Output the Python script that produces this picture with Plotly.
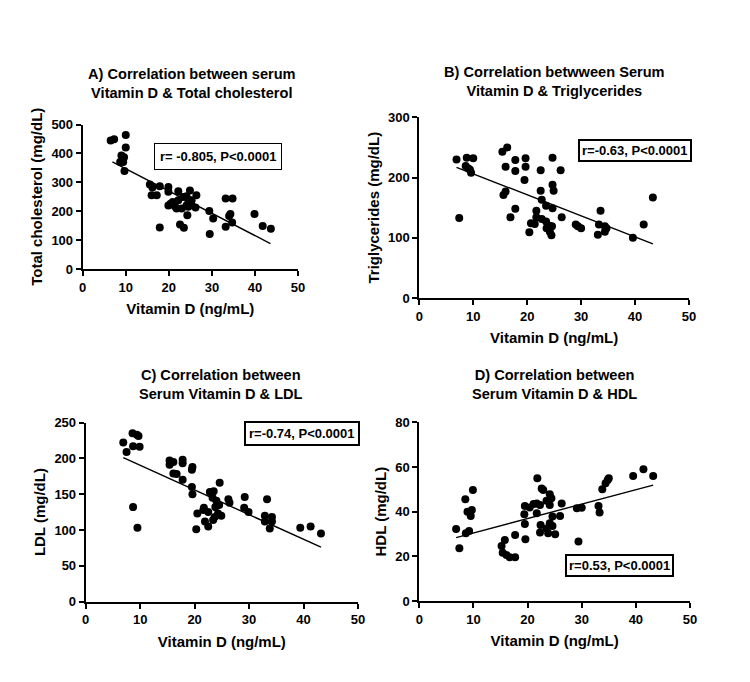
import plotly.graph_objects as go

FONT = "Liberation Sans, Arial, sans-serif"

# ---------------- Data ----------------
# A) Total cholesterol
a_vitd = [6.5, 7.3, 10.0, 10.0, 9.0, 9.6, 8.7, 9.4, 9.7, 15.6, 16.2, 16.0, 17.2, 17.9, 19.9, 19.9,
          22.2, 23.3, 24.9, 24.1, 25.3, 26.4, 20.4, 19.9, 21.8, 23.0, 24.1, 24.5, 24.3, 26.2,
          17.9, 22.6, 23.5, 29.4, 30.3, 29.5, 33.2, 34.8, 34.3, 34.0, 34.7, 33.2, 39.9, 41.8, 43.7,
          20.9, 22.2, 24.5, 25.3, 21.4]
a_chol = [445, 449, 464, 420, 393, 387, 370, 370, 339, 292, 282, 255, 255, 286, 284, 267,
          269, 249, 272, 252, 238, 255, 226, 220, 209, 209, 220, 215, 186, 213,
          144, 154, 143, 201, 175, 121, 244, 244, 190, 183, 161, 146, 190, 149, 139,
          232, 238, 240, 221, 217]
a_fit_x = [6.9, 43.6]
a_fit_y = [371, 88]

# B) Triglycerides
b_vitd = [6.9, 7.4, 8.8, 8.6, 9.4, 9.6, 10.0, 9.1, 15.4, 16.3, 16.0, 15.6, 16.0, 17.8, 17.8, 16.9,
          17.8, 19.7, 19.7, 19.5, 22.5, 22.5, 22.7, 23.5, 21.7, 20.7, 20.4, 21.4, 21.7, 22.7,
          23.5, 23.6, 24.1, 24.2, 24.5, 24.6, 24.7, 24.7, 24.9, 24.7, 26.2, 26.4, 29.0, 29.4,
          30.0, 33.3, 33.1, 33.6, 34.4, 34.7, 34.4, 39.6, 41.6, 43.3]
b_trig = [230, 133, 233, 219, 213, 208, 232, 215, 243, 250, 218, 171, 177, 229, 211, 134,
          148, 232, 218, 196, 212, 178, 163, 153, 145, 124, 109, 123, 134, 131,
          127, 116, 120, 110, 104, 119, 149, 188, 178, 233, 212, 134, 122, 119,
          116, 122, 105, 145, 119, 116, 110, 100, 122, 167]
b_fit_x = [6.9, 43.3]
b_fit_y = [217, 90]

# C) LDL
c_vitd = [6.9, 7.5, 8.6, 9.4, 9.7, 8.7, 9.9, 8.7, 9.5, 15.4, 15.4, 16.1, 16.1, 16.7, 17.8, 17.8,
          17.8, 19.6, 19.5, 19.5, 19.6, 20.5, 20.3, 21.6, 21.7, 22.5, 21.9, 22.5, 22.8, 23.5,
          23.3, 23.8, 24.0, 24.5, 24.6, 24.3, 24.9, 23.7, 23.4, 26.2, 26.4, 29.2, 29.1, 29.9,
          33.3, 32.9, 32.9, 34.2, 34.2, 33.8, 39.4, 41.3, 43.2]
c_ldl = [222, 209, 235, 233, 231, 217, 216, 132, 103, 197, 191, 195, 179, 178, 198, 193,
         170, 188, 184, 160, 150, 123, 101, 128, 131, 125, 112, 105, 153, 154,
         145, 132, 141, 135, 166, 123, 120, 118, 114, 143, 138, 146, 131, 125,
         143, 120, 112, 118, 112, 102, 103, 105, 95]
c_fit_x = [6.9, 43.2]
c_fit_y = [201, 76]

# D) HDL
d_vitd = [6.8, 7.4, 8.5, 8.6, 8.9, 9.2, 9.5, 9.9, 9.7, 15.2, 15.4, 15.8, 16.1, 16.7, 17.7, 17.7,
          19.5, 19.4, 19.5, 19.6, 20.4, 21.1, 21.7, 21.7, 21.8, 22.3, 22.6, 22.9, 22.4, 22.3,
          23.5, 23.5, 24.1, 24.1, 24.4, 23.8, 24.1, 24.6, 24.6, 25.1, 26.0, 26.3, 29.1, 29.4,
          30.0, 33.1, 33.3, 33.8, 34.4, 34.8, 35.0, 39.5, 41.4, 43.2]
d_hdl = [32.2, 23.6, 45.5, 30.3, 40.0, 31.3, 38.0, 49.7, 40.7, 24.6, 21.6, 27.3, 20.6, 19.6, 19.6, 29.6,
         42.5, 38.8, 34.5, 27.6, 41.9, 43.4, 39.3, 43.7, 54.9, 43.0, 50.4, 49.7, 34.0, 30.7,
         44.9, 32.5, 47.8, 43.0, 46.0, 30.3, 34.8, 37.8, 33.6, 29.9, 38.1, 43.7, 41.5, 26.6,
         41.8, 42.5, 39.6, 50.0, 52.7, 54.2, 54.9, 56.0, 59.0, 56.0]
d_fit_x = [6.8, 43.2]
d_fit_y = [28.4, 51.9]

x_ticks = [0, 10, 20, 30, 40, 50]
panels = [
    dict(x=a_vitd, y=a_chol, fx=a_fit_x, fy=a_fit_y, yr=[0, 500], yt=[0, 100, 200, 300, 400, 500],
         ytitle="Total cholesterol (mg/dL)",
         title="A) Correlation between serum<br>Vitamin D & Total cholesterol",
         stat="r= -0.805, P<0.0001"),
    dict(x=b_vitd, y=b_trig, fx=b_fit_x, fy=b_fit_y, yr=[0, 300], yt=[0, 100, 200, 300],
         ytitle="Triglycerides (mg/dL)",
         title="B) Correlation betwween Serum<br>Vitamin D & Triglycerides",
         stat="r=-0.63, P<0.0001"),
    dict(x=c_vitd, y=c_ldl, fx=c_fit_x, fy=c_fit_y, yr=[0, 250], yt=[0, 50, 100, 150, 200, 250],
         ytitle="LDL (mg/dL)",
         title="C) Correlation between<br>Serum Vitamin D & LDL",
         stat="r=-0.74, P<0.0001"),
    dict(x=d_vitd, y=d_hdl, fx=d_fit_x, fy=d_fit_y, yr=[0, 80], yt=[0, 20, 40, 60, 80],
         ytitle="HDL (mg/dL)",
         title="D) Correlation between<br>Serum Vitamin D & HDL",
         stat="r=0.53, P<0.0001"),
]

# page body has an 8px margin; size the figure so the page is exactly 750x682
OFF = 8
W, H = 750 - OFF, 682 - OFF
def px(x): return (x - OFF) / W
def py(y): return 1 - (y - OFF) / H

# pixel layout (window coords): (left, right, top, bottom) of plot area
boxes = [(82.7, 298, 124.5, 269), (419.3, 689, 117.3, 298),
         (85.7, 358, 422.5, 601.7), (419.3, 690, 422.3, 601)]
title_pos = [(191.5, 83.5), (554, 81.5), (221, 384.5), (554, 384.5)]
stat_pos = [(218, 156.3, 5, 1), (634.5, 151, 2, 2), (302, 433.3, 3, 2), (619.5, 565.5, 2, 2)]

fig = go.Figure()
annotations = []
for i, (p, b) in enumerate(zip(panels, boxes)):
    n = "" if i == 0 else str(i + 1)
    xa, ya = "x" + n, "y" + n
    fig.add_trace(go.Scatter(x=p["x"], y=p["y"], mode="markers", xaxis=xa, yaxis=ya,
                             marker=dict(color="black", size=8), cliponaxis=False, showlegend=False))
    fig.add_trace(go.Scatter(x=p["fx"], y=p["fy"], mode="lines", xaxis=xa, yaxis=ya,
                             line=dict(color="black", width=1.4), showlegend=False))
    l, r, t, bt = b
    axcommon = dict(showgrid=False, zeroline=False, showline=True, linecolor="black", linewidth=2,
                    ticks="outside", ticklen=5, tickwidth=2, tickcolor="black", automargin=False,
                    tickfont=dict(family=FONT, size=13, color="black", weight="bold"))
    fig.update_layout(**{
        ("xaxis" + n): dict(domain=[px(l), px(r)], range=[0, 50], tickvals=x_ticks,
                            anchor=ya, title=dict(text="Vitamin D (ng/mL)", standoff=10,
                                                  font=dict(family=FONT, size=15, color="black", weight="bold")),
                            **axcommon),
        ("yaxis" + n): dict(domain=[py(bt), py(t)], range=p["yr"], tickvals=p["yt"],
                            anchor=xa, title=dict(text=p["ytitle"], standoff=5,
                                                  font=dict(family=FONT, size=15, color="black", weight="bold")),
                            **axcommon),
    })
    tx, ty = title_pos[i]
    annotations.append(dict(text="<b>" + p["title"].replace("<br>", "</b><br><b>") + "</b>",
                            x=px(tx), y=py(ty), xref="paper", yref="paper",
                            xanchor="center", yanchor="middle", showarrow=False,
                            font=dict(family=FONT, size=14.6, color="black")))
    sx, sy, pad, bw = stat_pos[i]
    annotations.append(dict(text="<b>" + p["stat"] + "</b>", x=px(sx), y=py(sy),
                            xref="paper", yref="paper", xanchor="center", yanchor="middle",
                            showarrow=False, bordercolor="black", borderwidth=bw, borderpad=pad,
                            bgcolor="white",
                            font=dict(family=FONT, size=13, color="black")))

fig.update_layout(template="none", width=W, height=H, margin=dict(l=0, r=0, t=0, b=0, autoexpand=False),
                  paper_bgcolor="white", plot_bgcolor="white",
                  annotations=annotations, font=dict(family=FONT, color="black"))
fig.write_html("out.html")
